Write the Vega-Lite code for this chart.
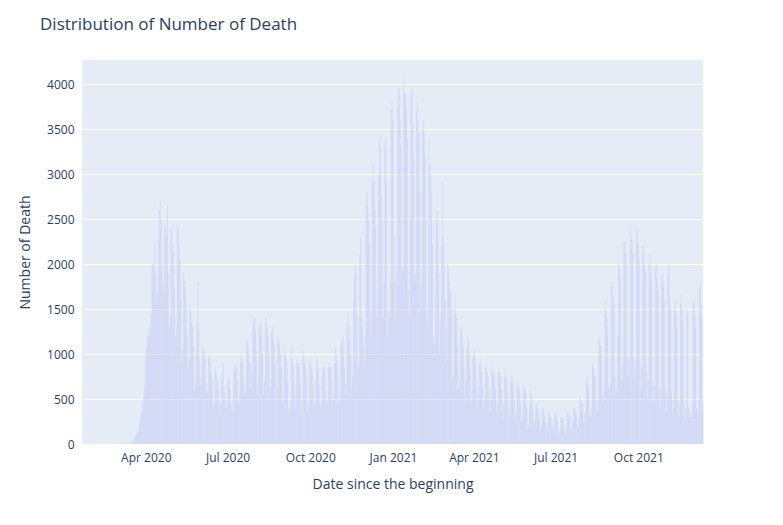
{"$schema":"https://vega.github.io/schema/vega-lite/v6.json","width":621,"height":384,"padding":{"left":82,"top":60,"right":80,"bottom":81},"autosize":"none","background":"white",
"title":{"text":"Distribution of Number of Death","anchor":"start","frame":"group","dx":-42,"offset":26,"font":"Open Sans","fontSize":17,"fontWeight":"normal","color":"#2a3f5f"},
"config":{"view":{"fill":"#E5ECF6","stroke":null},"font":"Open Sans"},
"data":{"values":[
{"d":"2020-02-29","v":1},
{"d":"2020-03-01","v":1},{"d":"2020-03-02","v":2},{"d":"2020-03-03","v":1},{"d":"2020-03-04","v":3},{"d":"2020-03-05","v":2},{"d":"2020-03-06","v":5},{"d":"2020-03-07","v":4},
{"d":"2020-03-08","v":4},{"d":"2020-03-09","v":5},{"d":"2020-03-10","v":6},{"d":"2020-03-11","v":8},{"d":"2020-03-12","v":10},{"d":"2020-03-13","v":12},{"d":"2020-03-14","v":14},
{"d":"2020-03-15","v":20},{"d":"2020-03-16","v":30},{"d":"2020-03-17","v":40},{"d":"2020-03-18","v":60},{"d":"2020-03-19","v":70},{"d":"2020-03-20","v":100},{"d":"2020-03-21","v":110},
{"d":"2020-03-22","v":130},{"d":"2020-03-23","v":180},{"d":"2020-03-24","v":250},{"d":"2020-03-25","v":300},{"d":"2020-03-26","v":350},{"d":"2020-03-27","v":450},{"d":"2020-03-28","v":500},
{"d":"2020-03-29","v":550},{"d":"2020-03-30","v":650},{"d":"2020-03-31","v":1000},{"d":"2020-04-01","v":1100},{"d":"2020-04-02","v":1200},{"d":"2020-04-03","v":1300},{"d":"2020-04-04","v":1200},
{"d":"2020-04-05","v":1300},{"d":"2020-04-06","v":1450},{"d":"2020-04-07","v":2000},{"d":"2020-04-08","v":2000},{"d":"2020-04-09","v":1950},{"d":"2020-04-10","v":2250},{"d":"2020-04-11","v":1900},
{"d":"2020-04-12","v":1600},{"d":"2020-04-13","v":1700},{"d":"2020-04-14","v":2250},{"d":"2020-04-15","v":2600},{"d":"2020-04-16","v":2700},{"d":"2020-04-17","v":2500},{"d":"2020-04-18","v":2000},
{"d":"2020-04-19","v":1800},{"d":"2020-04-20","v":1700},{"d":"2020-04-21","v":2450},{"d":"2020-04-22","v":2400},{"d":"2020-04-23","v":2300},{"d":"2020-04-24","v":2650},{"d":"2020-04-25","v":1900},
{"d":"2020-04-26","v":1300},{"d":"2020-04-27","v":1400},{"d":"2020-04-28","v":2400},{"d":"2020-04-29","v":2350},{"d":"2020-04-30","v":2200},{"d":"2020-05-01","v":2100},{"d":"2020-05-02","v":1700},
{"d":"2020-05-03","v":1200},{"d":"2020-05-04","v":1300},{"d":"2020-05-05","v":2450},{"d":"2020-05-06","v":2400},{"d":"2020-05-07","v":2200},{"d":"2020-05-08","v":2050},{"d":"2020-05-09","v":1600},
{"d":"2020-05-10","v":900},{"d":"2020-05-11","v":1050},{"d":"2020-05-12","v":1900},{"d":"2020-05-13","v":1800},{"d":"2020-05-14","v":1750},{"d":"2020-05-15","v":1600},{"d":"2020-05-16","v":1200},
{"d":"2020-05-17","v":850},{"d":"2020-05-18","v":950},{"d":"2020-05-19","v":1550},{"d":"2020-05-20","v":1500},{"d":"2020-05-21","v":1350},{"d":"2020-05-22","v":1300},{"d":"2020-05-23","v":1100},
{"d":"2020-05-24","v":600},{"d":"2020-05-25","v":700},{"d":"2020-05-26","v":1000},{"d":"2020-05-27","v":1350},{"d":"2020-05-28","v":1800},{"d":"2020-05-29","v":1250},{"d":"2020-05-30","v":900},
{"d":"2020-05-31","v":650},{"d":"2020-06-01","v":750},{"d":"2020-06-02","v":1100},{"d":"2020-06-03","v":1050},{"d":"2020-06-04","v":1000},{"d":"2020-06-05","v":950},{"d":"2020-06-06","v":700},
{"d":"2020-06-07","v":550},{"d":"2020-06-08","v":600},{"d":"2020-06-09","v":1000},{"d":"2020-06-10","v":950},{"d":"2020-06-11","v":900},{"d":"2020-06-12","v":800},{"d":"2020-06-13","v":700},
{"d":"2020-06-14","v":400},{"d":"2020-06-15","v":450},{"d":"2020-06-16","v":800},{"d":"2020-06-17","v":850},{"d":"2020-06-18","v":750},{"d":"2020-06-19","v":700},{"d":"2020-06-20","v":600},
{"d":"2020-06-21","v":350},{"d":"2020-06-22","v":450},{"d":"2020-06-23","v":750},{"d":"2020-06-24","v":800},{"d":"2020-06-25","v":900},{"d":"2020-06-26","v":650},{"d":"2020-06-27","v":550},
{"d":"2020-06-28","v":400},{"d":"2020-06-29","v":450},{"d":"2020-06-30","v":700},{"d":"2020-07-01","v":750},{"d":"2020-07-02","v":700},{"d":"2020-07-03","v":600},{"d":"2020-07-04","v":450},
{"d":"2020-07-05","v":350},{"d":"2020-07-06","v":500},{"d":"2020-07-07","v":850},{"d":"2020-07-08","v":800},{"d":"2020-07-09","v":900},{"d":"2020-07-10","v":850},{"d":"2020-07-11","v":700},
{"d":"2020-07-12","v":450},{"d":"2020-07-13","v":550},{"d":"2020-07-14","v":900},{"d":"2020-07-15","v":1000},{"d":"2020-07-16","v":950},{"d":"2020-07-17","v":900},{"d":"2020-07-18","v":750},
{"d":"2020-07-19","v":550},{"d":"2020-07-20","v":600},{"d":"2020-07-21","v":1100},{"d":"2020-07-22","v":1150},{"d":"2020-07-23","v":1100},{"d":"2020-07-24","v":1000},{"d":"2020-07-25","v":900},
{"d":"2020-07-26","v":600},{"d":"2020-07-27","v":800},{"d":"2020-07-28","v":1300},{"d":"2020-07-29","v":1350},{"d":"2020-07-30","v":1400},{"d":"2020-07-31","v":1250},{"d":"2020-08-01","v":1050},
{"d":"2020-08-02","v":550},{"d":"2020-08-03","v":750},{"d":"2020-08-04","v":1300},{"d":"2020-08-05","v":1250},{"d":"2020-08-06","v":1350},{"d":"2020-08-07","v":1200},{"d":"2020-08-08","v":1000},
{"d":"2020-08-09","v":550},{"d":"2020-08-10","v":700},{"d":"2020-08-11","v":1350},{"d":"2020-08-12","v":1400},{"d":"2020-08-13","v":1300},{"d":"2020-08-14","v":1200},{"d":"2020-08-15","v":1000},
{"d":"2020-08-16","v":500},{"d":"2020-08-17","v":650},{"d":"2020-08-18","v":1250},{"d":"2020-08-19","v":1300},{"d":"2020-08-20","v":1150},{"d":"2020-08-21","v":1100},{"d":"2020-08-22","v":900},
{"d":"2020-08-23","v":450},{"d":"2020-08-24","v":600},{"d":"2020-08-25","v":1200},{"d":"2020-08-26","v":1150},{"d":"2020-08-27","v":1100},{"d":"2020-08-28","v":1000},{"d":"2020-08-29","v":850},
{"d":"2020-08-30","v":450},{"d":"2020-08-31","v":500},{"d":"2020-09-01","v":1050},{"d":"2020-09-02","v":1000},{"d":"2020-09-03","v":950},{"d":"2020-09-04","v":900},{"d":"2020-09-05","v":700},
{"d":"2020-09-06","v":400},{"d":"2020-09-07","v":350},{"d":"2020-09-08","v":500},{"d":"2020-09-09","v":1100},{"d":"2020-09-10","v":950},{"d":"2020-09-11","v":900},{"d":"2020-09-12","v":700},
{"d":"2020-09-13","v":400},{"d":"2020-09-14","v":550},{"d":"2020-09-15","v":950},{"d":"2020-09-16","v":900},{"d":"2020-09-17","v":900},{"d":"2020-09-18","v":850},{"d":"2020-09-19","v":700},
{"d":"2020-09-20","v":350},{"d":"2020-09-21","v":500},{"d":"2020-09-22","v":1050},{"d":"2020-09-23","v":950},{"d":"2020-09-24","v":900},{"d":"2020-09-25","v":850},{"d":"2020-09-26","v":700},
{"d":"2020-09-27","v":350},{"d":"2020-09-28","v":450},{"d":"2020-09-29","v":900},{"d":"2020-09-30","v":950},{"d":"2020-10-01","v":850},{"d":"2020-10-02","v":800},{"d":"2020-10-03","v":650},
{"d":"2020-10-04","v":400},{"d":"2020-10-05","v":450},{"d":"2020-10-06","v":700},{"d":"2020-10-07","v":950},{"d":"2020-10-08","v":900},{"d":"2020-10-09","v":850},{"d":"2020-10-10","v":650},
{"d":"2020-10-11","v":400},{"d":"2020-10-12","v":450},{"d":"2020-10-13","v":750},{"d":"2020-10-14","v":850},{"d":"2020-10-15","v":800},{"d":"2020-10-16","v":850},{"d":"2020-10-17","v":600},
{"d":"2020-10-18","v":450},{"d":"2020-10-19","v":500},{"d":"2020-10-20","v":850},{"d":"2020-10-21","v":900},{"d":"2020-10-22","v":850},{"d":"2020-10-23","v":850},{"d":"2020-10-24","v":700},
{"d":"2020-10-25","v":450},{"d":"2020-10-26","v":550},{"d":"2020-10-27","v":900},{"d":"2020-10-28","v":1050},{"d":"2020-10-29","v":1000},{"d":"2020-10-30","v":900},{"d":"2020-10-31","v":750},
{"d":"2020-11-01","v":450},{"d":"2020-11-02","v":500},{"d":"2020-11-03","v":1100},{"d":"2020-11-04","v":1150},{"d":"2020-11-05","v":1200},{"d":"2020-11-06","v":1050},{"d":"2020-11-07","v":850},
{"d":"2020-11-08","v":550},{"d":"2020-11-09","v":650},{"d":"2020-11-10","v":1350},{"d":"2020-11-11","v":1400},{"d":"2020-11-12","v":1150},{"d":"2020-11-13","v":1300},{"d":"2020-11-14","v":1000},
{"d":"2020-11-15","v":600},{"d":"2020-11-16","v":750},{"d":"2020-11-17","v":1600},{"d":"2020-11-18","v":1850},{"d":"2020-11-19","v":2000},{"d":"2020-11-20","v":1900},{"d":"2020-11-21","v":1450},
{"d":"2020-11-22","v":850},{"d":"2020-11-23","v":900},{"d":"2020-11-24","v":2100},{"d":"2020-11-25","v":2300},{"d":"2020-11-26","v":1300},{"d":"2020-11-27","v":1400},{"d":"2020-11-28","v":1100},
{"d":"2020-11-29","v":900},{"d":"2020-11-30","v":1200},{"d":"2020-12-01","v":2650},{"d":"2020-12-02","v":2800},{"d":"2020-12-03","v":2650},{"d":"2020-12-04","v":2500},{"d":"2020-12-05","v":2200},
{"d":"2020-12-06","v":1200},{"d":"2020-12-07","v":1450},{"d":"2020-12-08","v":2900},{"d":"2020-12-09","v":3100},{"d":"2020-12-10","v":2900},{"d":"2020-12-11","v":2600},{"d":"2020-12-12","v":2400},
{"d":"2020-12-13","v":1400},{"d":"2020-12-14","v":1650},{"d":"2020-12-15","v":3000},{"d":"2020-12-16","v":3400},{"d":"2020-12-17","v":3300},{"d":"2020-12-18","v":2750},{"d":"2020-12-19","v":2500},
{"d":"2020-12-20","v":1400},{"d":"2020-12-21","v":1800},{"d":"2020-12-22","v":3300},{"d":"2020-12-23","v":3400},{"d":"2020-12-24","v":2900},{"d":"2020-12-25","v":1200},{"d":"2020-12-26","v":1500},
{"d":"2020-12-27","v":1400},{"d":"2020-12-28","v":1800},{"d":"2020-12-29","v":3700},{"d":"2020-12-30","v":3800},{"d":"2020-12-31","v":3600},{"d":"2021-01-01","v":1800},{"d":"2021-01-02","v":2300},
{"d":"2021-01-03","v":1400},{"d":"2021-01-04","v":1900},{"d":"2021-01-05","v":3750},{"d":"2021-01-06","v":4000},{"d":"2021-01-07","v":3950},{"d":"2021-01-08","v":3600},{"d":"2021-01-09","v":3300},
{"d":"2021-01-10","v":1900},{"d":"2021-01-11","v":1950},{"d":"2021-01-12","v":4050},{"d":"2021-01-13","v":3900},{"d":"2021-01-14","v":3900},{"d":"2021-01-15","v":3700},{"d":"2021-01-16","v":3400},
{"d":"2021-01-17","v":1700},{"d":"2021-01-18","v":1450},{"d":"2021-01-19","v":2500},{"d":"2021-01-20","v":3900},{"d":"2021-01-21","v":3950},{"d":"2021-01-22","v":3550},{"d":"2021-01-23","v":3200},
{"d":"2021-01-24","v":1800},{"d":"2021-01-25","v":1900},{"d":"2021-01-26","v":3700},{"d":"2021-01-27","v":3800},{"d":"2021-01-28","v":3600},{"d":"2021-01-29","v":3450},{"d":"2021-01-30","v":2800},
{"d":"2021-01-31","v":1500},{"d":"2021-02-01","v":1800},{"d":"2021-02-02","v":3500},{"d":"2021-02-03","v":3600},{"d":"2021-02-04","v":3450},{"d":"2021-02-05","v":3200},{"d":"2021-02-06","v":2500},
{"d":"2021-02-07","v":1300},{"d":"2021-02-08","v":1500},{"d":"2021-02-09","v":3400},{"d":"2021-02-10","v":3100},{"d":"2021-02-11","v":3000},{"d":"2021-02-12","v":2800},{"d":"2021-02-13","v":2200},
{"d":"2021-02-14","v":1200},{"d":"2021-02-15","v":1100},{"d":"2021-02-16","v":1700},{"d":"2021-02-17","v":2500},{"d":"2021-02-18","v":2600},{"d":"2021-02-19","v":2450},{"d":"2021-02-20","v":1900},
{"d":"2021-02-21","v":1000},{"d":"2021-02-22","v":1400},{"d":"2021-02-23","v":2200},{"d":"2021-02-24","v":2900},{"d":"2021-02-25","v":2300},{"d":"2021-02-26","v":2000},{"d":"2021-02-27","v":1600},
{"d":"2021-02-28","v":900},{"d":"2021-03-01","v":1300},{"d":"2021-03-02","v":2000},{"d":"2021-03-03","v":1950},{"d":"2021-03-04","v":1800},{"d":"2021-03-05","v":1700},{"d":"2021-03-06","v":1500},
{"d":"2021-03-07","v":700},{"d":"2021-03-08","v":750},{"d":"2021-03-09","v":1500},{"d":"2021-03-10","v":1600},{"d":"2021-03-11","v":1450},{"d":"2021-03-12","v":1400},{"d":"2021-03-13","v":1100},
{"d":"2021-03-14","v":600},{"d":"2021-03-15","v":700},{"d":"2021-03-16","v":1250},{"d":"2021-03-17","v":1300},{"d":"2021-03-18","v":1200},{"d":"2021-03-19","v":1100},{"d":"2021-03-20","v":850},
{"d":"2021-03-21","v":550},{"d":"2021-03-22","v":700},{"d":"2021-03-23","v":1050},{"d":"2021-03-24","v":1200},{"d":"2021-03-25","v":1150},{"d":"2021-03-26","v":1000},{"d":"2021-03-27","v":800},
{"d":"2021-03-28","v":450},{"d":"2021-03-29","v":600},{"d":"2021-03-30","v":950},{"d":"2021-03-31","v":1050},{"d":"2021-04-01","v":1000},{"d":"2021-04-02","v":900},{"d":"2021-04-03","v":700},
{"d":"2021-04-04","v":400},{"d":"2021-04-05","v":550},{"d":"2021-04-06","v":900},{"d":"2021-04-07","v":950},{"d":"2021-04-08","v":850},{"d":"2021-04-09","v":800},{"d":"2021-04-10","v":650},
{"d":"2021-04-11","v":400},{"d":"2021-04-12","v":500},{"d":"2021-04-13","v":850},{"d":"2021-04-14","v":850},{"d":"2021-04-15","v":800},{"d":"2021-04-16","v":750},{"d":"2021-04-17","v":600},
{"d":"2021-04-18","v":350},{"d":"2021-04-19","v":500},{"d":"2021-04-20","v":850},{"d":"2021-04-21","v":800},{"d":"2021-04-22","v":800},{"d":"2021-04-23","v":750},{"d":"2021-04-24","v":600},
{"d":"2021-04-25","v":350},{"d":"2021-04-26","v":450},{"d":"2021-04-27","v":800},{"d":"2021-04-28","v":850},{"d":"2021-04-29","v":800},{"d":"2021-04-30","v":750},{"d":"2021-05-01","v":600},
{"d":"2021-05-02","v":300},{"d":"2021-05-03","v":450},{"d":"2021-05-04","v":750},{"d":"2021-05-05","v":800},{"d":"2021-05-06","v":750},{"d":"2021-05-07","v":700},{"d":"2021-05-08","v":550},
{"d":"2021-05-09","v":300},{"d":"2021-05-10","v":400},{"d":"2021-05-11","v":700},{"d":"2021-05-12","v":750},{"d":"2021-05-13","v":700},{"d":"2021-05-14","v":650},{"d":"2021-05-15","v":500},
{"d":"2021-05-16","v":250},{"d":"2021-05-17","v":350},{"d":"2021-05-18","v":650},{"d":"2021-05-19","v":700},{"d":"2021-05-20","v":650},{"d":"2021-05-21","v":600},{"d":"2021-05-22","v":450},
{"d":"2021-05-23","v":250},{"d":"2021-05-24","v":350},{"d":"2021-05-25","v":650},{"d":"2021-05-26","v":650},{"d":"2021-05-27","v":600},{"d":"2021-05-28","v":550},{"d":"2021-05-29","v":400},
{"d":"2021-05-30","v":150},{"d":"2021-05-31","v":200},{"d":"2021-06-01","v":450},{"d":"2021-06-02","v":600},{"d":"2021-06-03","v":550},{"d":"2021-06-04","v":450},{"d":"2021-06-05","v":350},
{"d":"2021-06-06","v":200},{"d":"2021-06-07","v":250},{"d":"2021-06-08","v":450},{"d":"2021-06-09","v":450},{"d":"2021-06-10","v":400},{"d":"2021-06-11","v":350},{"d":"2021-06-12","v":250},
{"d":"2021-06-13","v":150},{"d":"2021-06-14","v":200},{"d":"2021-06-15","v":400},{"d":"2021-06-16","v":400},{"d":"2021-06-17","v":350},{"d":"2021-06-18","v":300},{"d":"2021-06-19","v":250},
{"d":"2021-06-20","v":150},{"d":"2021-06-21","v":200},{"d":"2021-06-22","v":350},{"d":"2021-06-23","v":350},{"d":"2021-06-24","v":300},{"d":"2021-06-25","v":300},{"d":"2021-06-26","v":200},
{"d":"2021-06-27","v":150},{"d":"2021-06-28","v":200},{"d":"2021-06-29","v":300},{"d":"2021-06-30","v":350},{"d":"2021-07-01","v":300},{"d":"2021-07-02","v":250},{"d":"2021-07-03","v":150},
{"d":"2021-07-04","v":100},{"d":"2021-07-05","v":150},{"d":"2021-07-06","v":300},{"d":"2021-07-07","v":300},{"d":"2021-07-08","v":300},{"d":"2021-07-09","v":250},{"d":"2021-07-10","v":150},
{"d":"2021-07-11","v":100},{"d":"2021-07-12","v":200},{"d":"2021-07-13","v":350},{"d":"2021-07-14","v":350},{"d":"2021-07-15","v":300},{"d":"2021-07-16","v":300},{"d":"2021-07-17","v":150},
{"d":"2021-07-18","v":150},{"d":"2021-07-19","v":250},{"d":"2021-07-20","v":400},{"d":"2021-07-21","v":400},{"d":"2021-07-22","v":350},{"d":"2021-07-23","v":350},{"d":"2021-07-24","v":200},
{"d":"2021-07-25","v":200},{"d":"2021-07-26","v":300},{"d":"2021-07-27","v":500},{"d":"2021-07-28","v":500},{"d":"2021-07-29","v":450},{"d":"2021-07-30","v":450},{"d":"2021-07-31","v":250},
{"d":"2021-08-01","v":250},{"d":"2021-08-02","v":350},{"d":"2021-08-03","v":700},{"d":"2021-08-04","v":750},{"d":"2021-08-05","v":650},{"d":"2021-08-06","v":600},{"d":"2021-08-07","v":350},
{"d":"2021-08-08","v":300},{"d":"2021-08-09","v":400},{"d":"2021-08-10","v":900},{"d":"2021-08-11","v":850},{"d":"2021-08-12","v":800},{"d":"2021-08-13","v":750},{"d":"2021-08-14","v":450},
{"d":"2021-08-15","v":350},{"d":"2021-08-16","v":500},{"d":"2021-08-17","v":1200},{"d":"2021-08-18","v":1150},{"d":"2021-08-19","v":1100},{"d":"2021-08-20","v":1000},{"d":"2021-08-21","v":550},
{"d":"2021-08-22","v":450},{"d":"2021-08-23","v":600},{"d":"2021-08-24","v":1600},{"d":"2021-08-25","v":1500},{"d":"2021-08-26","v":1400},{"d":"2021-08-27","v":1300},{"d":"2021-08-28","v":650},
{"d":"2021-08-29","v":550},{"d":"2021-08-30","v":700},{"d":"2021-08-31","v":1800},{"d":"2021-09-01","v":1750},{"d":"2021-09-02","v":1650},{"d":"2021-09-03","v":1550},{"d":"2021-09-04","v":750},
{"d":"2021-09-05","v":550},{"d":"2021-09-06","v":600},{"d":"2021-09-07","v":1200},{"d":"2021-09-08","v":2000},{"d":"2021-09-09","v":1950},{"d":"2021-09-10","v":1850},{"d":"2021-09-11","v":850},
{"d":"2021-09-12","v":700},{"d":"2021-09-13","v":900},{"d":"2021-09-14","v":2250},{"d":"2021-09-15","v":2250},{"d":"2021-09-16","v":2100},{"d":"2021-09-17","v":2000},{"d":"2021-09-18","v":950},
{"d":"2021-09-19","v":750},{"d":"2021-09-20","v":950},{"d":"2021-09-21","v":2400},{"d":"2021-09-22","v":2300},{"d":"2021-09-23","v":2250},{"d":"2021-09-24","v":2100},{"d":"2021-09-25","v":950},
{"d":"2021-09-26","v":700},{"d":"2021-09-27","v":900},{"d":"2021-09-28","v":2350},{"d":"2021-09-29","v":2400},{"d":"2021-09-30","v":2200},{"d":"2021-10-01","v":2050},{"d":"2021-10-02","v":900},
{"d":"2021-10-03","v":600},{"d":"2021-10-04","v":850},{"d":"2021-10-05","v":2200},{"d":"2021-10-06","v":2150},{"d":"2021-10-07","v":2000},{"d":"2021-10-08","v":1900},{"d":"2021-10-09","v":800},
{"d":"2021-10-10","v":500},{"d":"2021-10-11","v":700},{"d":"2021-10-12","v":2000},{"d":"2021-10-13","v":2100},{"d":"2021-10-14","v":1900},{"d":"2021-10-15","v":1800},{"d":"2021-10-16","v":700},
{"d":"2021-10-17","v":450},{"d":"2021-10-18","v":650},{"d":"2021-10-19","v":1950},{"d":"2021-10-20","v":2000},{"d":"2021-10-21","v":1850},{"d":"2021-10-22","v":1700},{"d":"2021-10-23","v":650},
{"d":"2021-10-24","v":400},{"d":"2021-10-25","v":600},{"d":"2021-10-26","v":1850},{"d":"2021-10-27","v":1900},{"d":"2021-10-28","v":1750},{"d":"2021-10-29","v":1600},{"d":"2021-10-30","v":600},
{"d":"2021-10-31","v":350},{"d":"2021-11-01","v":550},{"d":"2021-11-02","v":1900},{"d":"2021-11-03","v":2000},{"d":"2021-11-04","v":1600},{"d":"2021-11-05","v":1500},{"d":"2021-11-06","v":550},
{"d":"2021-11-07","v":350},{"d":"2021-11-08","v":500},{"d":"2021-11-09","v":1500},{"d":"2021-11-10","v":1600},{"d":"2021-11-11","v":1450},{"d":"2021-11-12","v":1300},{"d":"2021-11-13","v":500},
{"d":"2021-11-14","v":300},{"d":"2021-11-15","v":450},{"d":"2021-11-16","v":1550},{"d":"2021-11-17","v":1650},{"d":"2021-11-18","v":1500},{"d":"2021-11-19","v":1350},{"d":"2021-11-20","v":450},
{"d":"2021-11-21","v":250},{"d":"2021-11-22","v":400},{"d":"2021-11-23","v":1500},{"d":"2021-11-24","v":1450},{"d":"2021-11-25","v":400},{"d":"2021-11-26","v":300},{"d":"2021-11-27","v":350},
{"d":"2021-11-28","v":300},{"d":"2021-11-29","v":450},{"d":"2021-11-30","v":1550},{"d":"2021-12-01","v":1600},{"d":"2021-12-02","v":1450},{"d":"2021-12-03","v":1300},{"d":"2021-12-04","v":400},
{"d":"2021-12-05","v":350},{"d":"2021-12-06","v":500},{"d":"2021-12-07","v":1750},{"d":"2021-12-08","v":1800},{"d":"2021-12-09","v":1550},{"d":"2021-12-10","v":1400},{"d":"2021-12-11","v":450}
]},
"mark":{"type":"bar","fill":"#bdc4f7","stroke":"#c9cff8","strokeWidth":0.25,"width":{"band":1}},
"encoding":{
"x":{"field":"d","type":"temporal","timeUnit":"yearmonthdate","title":"Date since the beginning",
"scale":{"domain":["2020-01-21","2021-12-12"]},
"axis":{"values":["2020-04-01","2020-07-01","2020-10-01","2021-01-01","2021-04-01","2021-07-01","2021-10-01"],"format":"%b %Y","grid":false,"domain":false,"ticks":false,"labelPadding":8,"labelColor":"#2a3f5f","labelFontSize":12,"titleColor":"#2a3f5f","titleFontSize":14,"titleFontWeight":"normal","titlePadding":14}},
"y":{"field":"v","type":"quantitative","title":"Number of Death",
"scale":{"domain":[0,4267],"nice":false},
"axis":{"values":[0,500,1000,1500,2000,2500,3000,3500,4000],"format":"d","grid":true,"gridColor":"white","gridWidth":1,"domain":false,"ticks":false,"labelPadding":8,"labelColor":"#2a3f5f","labelFontSize":12,"titleColor":"#2a3f5f","titleFontSize":14,"titleFontWeight":"normal","titlePadding":14}}
}}
